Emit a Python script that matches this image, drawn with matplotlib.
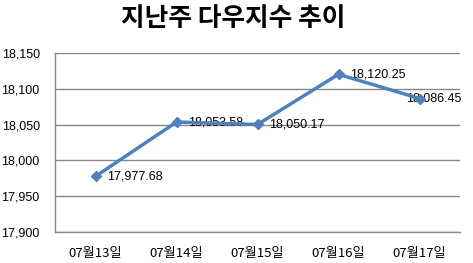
import matplotlib
matplotlib.use("Agg")
import matplotlib.pyplot as plt
from matplotlib.ticker import FuncFormatter

plt.rcParams['font.family'] = ['Noto Sans CJK KR', 'DejaVu Sans']

categories = ["07월13일", "07월14일", "07월15일", "07월16일", "07월17일"]
values = [17977.68, 18053.58, 18050.17, 18120.25, 18086.45]
yticks = [17900, 17950, 18000, 18050, 18100, 18150]
title = "지난주 다우지수 추이"

W, H = 473, 263
fig = plt.figure(figsize=(W / 100, H / 100), dpi=100)
ax = fig.add_axes([55 / W, 1 - 232 / H, 405 / W, (232 - 53) / H])

x = list(range(len(categories)))
ax.plot(x, values, color="#4F81BD", linewidth=2.5, marker="D", markersize=5,
        zorder=3, clip_on=False)
n = len(values)
for i, (xi, v) in enumerate(zip(x, values)):
    dx = 8 if i < n - 1 else -10
    ax.annotate(f"{v:,.2f}", (xi, v), xytext=(dx, 0), textcoords="offset points",
                va="center", ha="left", fontsize=9, color="black",
                family=['Liberation Sans', 'DejaVu Sans'], zorder=2,
                annotation_clip=False)

ax.set_xlim(-0.5, len(categories) - 0.5)
ax.set_ylim(yticks[0], yticks[-1])
ax.set_yticks(yticks)
ax.yaxis.set_major_formatter(FuncFormatter(lambda v, p: f"{v:,.0f}"))
ax.set_xticks(x)
ax.set_xticklabels(categories)
ax.grid(axis="y", color="#888888", linewidth=1)
ax.set_axisbelow(True)
for s in ["top", "right"]:
    ax.spines[s].set_visible(False)
for s in ["left", "bottom"]:
    ax.spines[s].set_color("#888888")
    ax.spines[s].set_linewidth(1)
ax.tick_params(axis="both", length=0)
ax.tick_params(axis="y", pad=11, labelsize=9)
ax.tick_params(axis="x", pad=11, labelsize=9.5)
for lab in ax.get_yticklabels():
    lab.set_family(['Liberation Sans', 'DejaVu Sans'])

fig.text(233 / W, 1 - 19 / H, title, ha="center", va="center", fontsize=18.5,
         fontweight="bold")

fig.savefig("out.png", dpi=100, facecolor="white")
